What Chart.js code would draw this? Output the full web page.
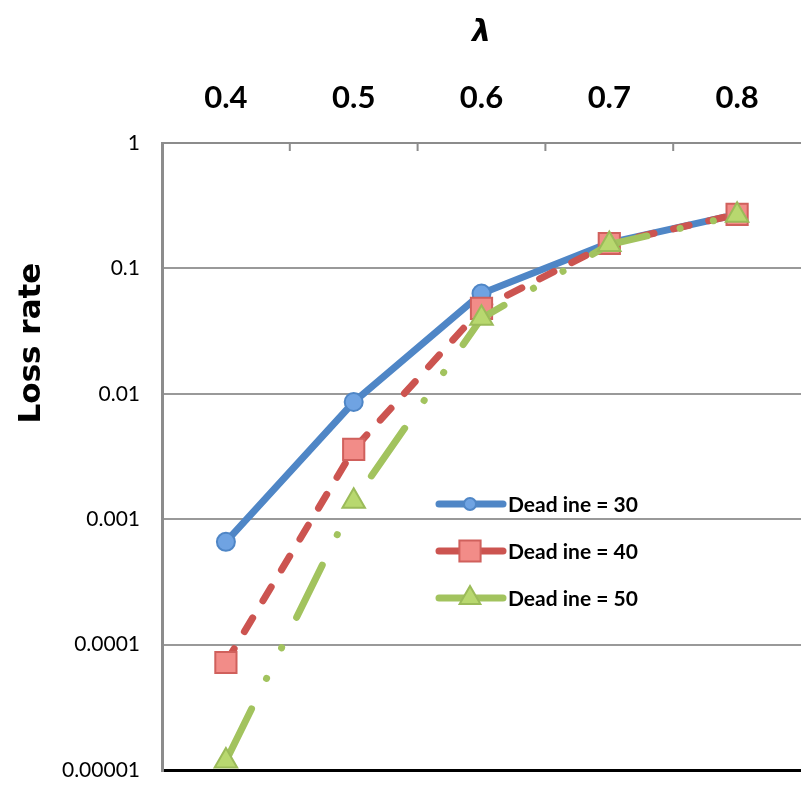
<!DOCTYPE html>
<html>
<head>
<meta charset="utf-8">
<script src="https://cdn.jsdelivr.net/npm/chart.js@4/dist/chart.umd.min.js"></script>
<style>
html,body{margin:0;padding:0;background:#fff;overflow:hidden}
#wrap{width:801px;height:787px;overflow:hidden}
</style>
</head>
<body>
<div id="wrap"><canvas id="chart" width="818" height="787"></canvas></div>
<script>
// ── DATA ──────────────────────────────────────────────
const lambdas = ['0.4', '0.5', '0.6', '0.7', '0.8'];
const deadline30 = [0.00066, 0.0086, 0.063, 0.16, 0.27];
const deadline40 = [0.000072, 0.0036, 0.048, 0.158, 0.27];
const deadline50 = [0.0000118, 0.00139, 0.040, 0.155, 0.265];
const seriesNames = ['Dead ine = 30', 'Dead ine = 40', 'Dead ine = 50'];
const yTicks = [0.00001, 0.0001, 0.001, 0.01, 0.1, 1];

const FONT = 'Lato, "Open Sans", sans-serif';
const WIDE = '"DejaVu Sans", sans-serif';

// ── HELPERS ───────────────────────────────────────────
function marker(ctx, style, x, y, r, fill, stroke){
    ctx.beginPath();
    if(style==='circle') ctx.arc(x, y, r, 0, Math.PI*2);
    else if(style==='rect'){ const s=r*Math.SQRT1_2; ctx.rect(x-s, y-s, 2*s, 2*s); }
    else { ctx.moveTo(x, y-r); ctx.lineTo(x+r*0.866, y+r*0.5); ctx.lineTo(x-r*0.866, y+r*0.5); ctx.closePath(); }
    ctx.fillStyle = fill; ctx.fill();
    ctx.lineWidth = 2; ctx.strokeStyle = stroke; ctx.stroke();
}

// titles, inner tick marks and the in-plot legend
const extras = {
    id: 'extras',
    afterDraw(chart){
        const {ctx, chartArea: a, scales: {x}} = chart;
        ctx.save();
        // inward tick marks between categories
        ctx.strokeStyle = '#8c8c8c'; ctx.lineWidth = 2;
        for(let i=1;i<lambdas.length;i++){
            const px = (x.getPixelForTick(i-1)+x.getPixelForTick(i))/2;
            ctx.beginPath(); ctx.moveTo(px, a.top); ctx.lineTo(px, a.top+8); ctx.stroke();
        }
        // y title
        ctx.translate(32, 343); ctx.rotate(-Math.PI/2);
        ctx.font = 'bold 31px '+WIDE; ctx.fillStyle = '#000';
        ctx.textAlign = 'center'; ctx.textBaseline = 'middle';
        ctx.fillText('Loss rate', 0, 0);
        ctx.restore();

        // legend
        ctx.save();
        const rows = [504, 551, 598];
        chart.data.datasets.forEach((ds,i)=>{
            const y = rows[i];
            ctx.strokeStyle = ds.borderColor; ctx.lineWidth = 7; ctx.lineCap = 'round';
            ctx.beginPath(); ctx.moveTo(439, y); ctx.lineTo(503, y); ctx.stroke();
            marker(ctx, ds.pointStyle, 470, y, ds.legendR, ds.pointBackgroundColor, ds.pointBorderColor);
            ctx.font = 'bold 21px '+FONT; ctx.fillStyle = '#000';
            ctx.textAlign = 'left'; ctx.textBaseline = 'middle';
            ctx.fillText(ds.label, 508, y+1);
        });
        ctx.restore();
    }
};

new Chart(document.getElementById('chart'), {
    type: 'line',
    data: {
        labels: lambdas,
        datasets: [
            {label: seriesNames[0], data: deadline30, borderColor: '#4f86c6', borderWidth: 7,
             pointStyle: 'circle', pointRadius: 9, pointBackgroundColor: '#6fa3e2', pointBorderColor: '#4f86c6',
             pointBorderWidth: 2, legendR: 6, order: 3, tension: 0},
            {label: seriesNames[1], data: deadline40, borderColor: '#cc5450', borderWidth: 7,
             borderDash: [16, 20], borderCapStyle: 'round',
             pointStyle: 'rect', pointRadius: 15, pointBackgroundColor: '#f28c88', pointBorderColor: '#d0605c',
             pointBorderWidth: 2, legendR: 15, order: 2, tension: 0},
            {label: seriesNames[2], data: deadline50, borderColor: '#a2c35e', borderWidth: 7,
             borderDash: [58, 34, 0.1, 34, 0.1, 34], borderCapStyle: 'round',
             pointStyle: 'triangle', pointRadius: 13, pointBackgroundColor: '#b8d86f', pointBorderColor: '#9bbb59',
             pointBorderWidth: 2, legendR: 12, order: 1, tension: 0}
        ]
    },
    options: {
        responsive: false,
        animation: false,
        layout: {padding: {top: 0, left: 0, right: 0, bottom: 15}},
        plugins: {legend: {display: false}, tooltip: {enabled: false}},
        scales: {
            x: {
                position: 'top',
                offset: true,
                grid: {display: false, drawTicks: false},
                border: {display: true, color: '#8c8c8c', width: 2},
                ticks: {color: '#000', padding: 26, font: {family: FONT, size: 31, weight: 'bold'}},
                title: {display: true, text: 'λ', color: '#000', padding: {top: 15, bottom: 0},
                        font: {family: WIDE, size: 30, weight: 'bold', style: 'italic'}},
                afterFit: s => { s.height = 143; s.paddingLeft = 0; s.paddingRight = 0; }
            },
            y: {
                type: 'logarithmic',
                min: 0.00001,
                max: 1,
                afterBuildTicks: s => { s.ticks = yTicks.map(v=>({value: v})); },
                grid: {color: c => c.tick && c.tick.value===0.00001 ? '#000' : '#999', lineWidth: c => c.tick && c.tick.value===0.00001 ? 3 : 2, drawTicks: false},
                border: {display: true, color: '#8c8c8c', width: 3},
                ticks: {color: '#000', padding: 22, font: {family: FONT, size: 21}, callback: v => String(v)},
                afterFit: s => { s.width = 162; s.paddingTop = 0; s.paddingBottom = 0; }
            }
        }
    },
    plugins: [extras]
});
</script>
</body>
</html>
